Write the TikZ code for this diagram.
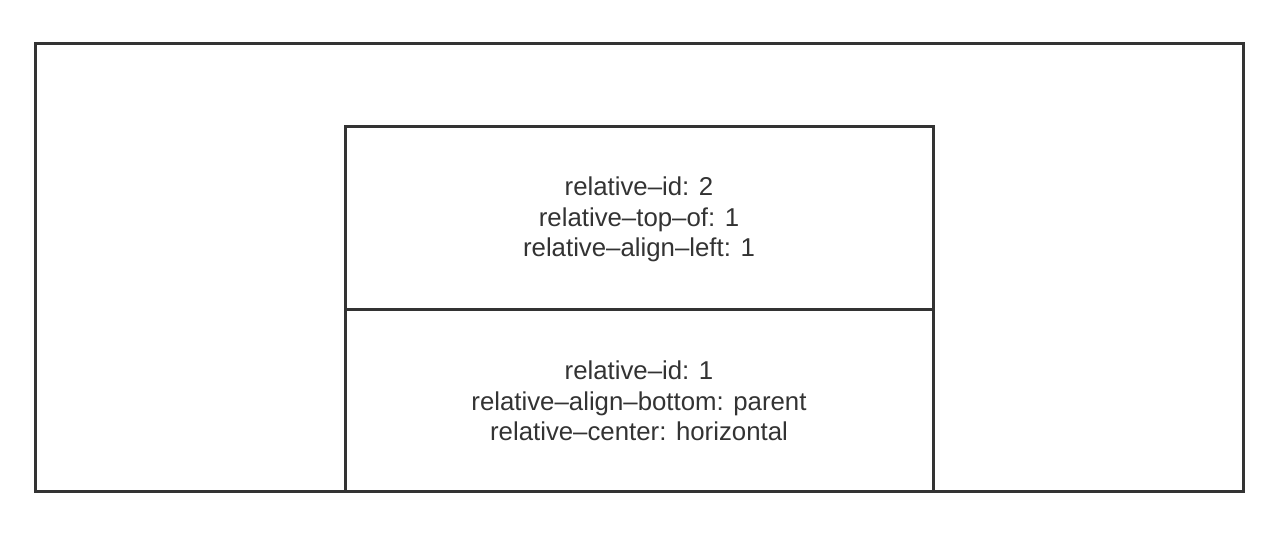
\documentclass[tikz,border=0pt]{standalone}
\usepackage{fontspec}
\setmainfont{Liberation Sans}
\definecolor{ink}{HTML}{333333}
\begin{document}
\begin{tikzpicture}[x=1pt,y=-1pt,
  frame/.style={draw=ink,line width=3pt},
  label/.style={text=ink,align=center,font=\fontsize{25.8}{30.5}\selectfont}]
\useasboundingbox (0,0) rectangle (1280,542);
\draw[frame] (35,43) rectangle (1243,491);
\draw[frame] (345,126) rectangle (933,309);
\draw[frame] (345,309) rectangle (933,491);
\node[label] (t2) at (639,219.5) {relative–id: 2\\relative–top–of: 1\\relative–align–left: 1};
\node[label] (t1) at (639,401) {relative–id: 1\\relative–align–bottom: parent\\relative–center: horizontal};
\end{tikzpicture}
\end{document}
